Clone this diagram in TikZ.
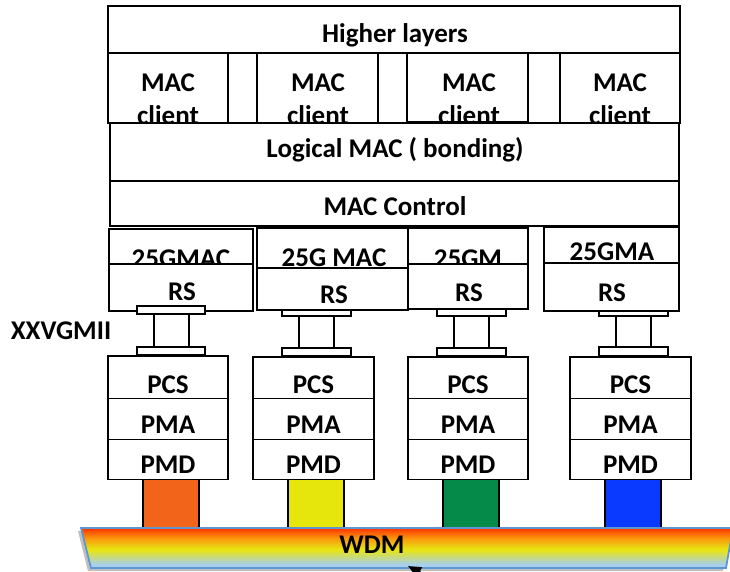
\documentclass[tikz,border=0pt]{standalone}
\usepackage{fontspec}
\setmainfont{Carlito}
\usetikzlibrary{arrows.meta}
\definecolor{corange}{RGB}{242,100,25}
\definecolor{cyellow}{RGB}{230,230,12}
\definecolor{cgreen}{RGB}{6,138,74}
\definecolor{cblue}{RGB}{10,58,255}
\definecolor{wred}{RGB}{255,50,0}
\definecolor{worg}{RGB}{250,150,10}
\definecolor{wyel}{RGB}{232,228,20}
\definecolor{wlb}{RGB}{168,208,232}
\definecolor{wedge}{RGB}{95,150,210}
\tikzset{
  box/.style={draw=black, line width=1.5pt, fill=white},
  pad/.style={draw=black, line width=1.3pt, fill=white},
  lbl/.style={font=\bfseries\fontsize{27}{32}\selectfont, anchor=base, inner sep=0pt},
}
\begin{document}
\begin{tikzpicture}[x=1pt,y=-1pt]
\useasboundingbox (0,0) rectangle (730,572);
\clip (0,0) rectangle (730,572);
% colored links
\draw[box, fill=corange] (143,476) rectangle (199,530);
\draw[box, fill=cyellow] (288,476) rectangle (344,530);
\draw[box, fill=cgreen] (443,476) rectangle (499,530);
\draw[box, fill=cblue] (605,476) rectangle (661,530);
% WDM
\fill[black!25] (78,531) -- (729,531) -- (723,571) -- (88,571) -- cycle;
\begin{scope}
  \clip (81,528) -- (733,528) -- (726,568) -- (91,568) -- cycle;
  \foreach \i in {0,...,9}{
    \pgfmathsetmacro\p{100-\i*10}
    \fill[wred!\p!worg] (70,{528+\i}) rectangle (740,{529.3+\i});
  }
  \foreach \i in {0,...,11}{
    \pgfmathsetmacro\p{100-\i*100/11}
    \fill[worg!\p!wyel] (70,{538+\i}) rectangle (740,{539.3+\i});
  }
  \foreach \i in {0,...,14}{
    \pgfmathsetmacro\p{100-\i*100/14}
    \fill[wyel!\p!wlb] (70,{550+\i}) rectangle (740,{551.3+\i});
  }
  \fill[wlb] (70,564.5) rectangle (740,572);
\end{scope}
\draw[draw=wedge, line width=1.8pt] (81,528) -- (733,528) -- (726,568) -- (91,568) -- cycle;
\node[lbl] (wdm) at (372,553) {WDM};
\draw[line width=2.5pt, -{Triangle[length=13pt,width=11pt]}] (446,587) -- (408,566);
% Higher layers
\draw[box] (108,6) rectangle (680,53);
\node[lbl] (hl) at (395,43) {Higher layers};
% MAC clients
\draw[box] (228,53) rectangle (257,123);
\draw[box] (378,53) rectangle (407,123);
\draw[box] (528,53) rectangle (560,123);
\draw[box] (108,53) rectangle (228,123);
\draw[box] (257,53) rectangle (378,123);
\draw[box] (407,53) rectangle (528,122);
\draw[box] (560,53) rectangle (680,123);
\foreach \n/\x in {1/168,2/318,3/469,4/620}{
  \node[lbl] (mac\n) at (\x,92) {MAC};
  \node[lbl] (cl\n) at (\x,125) {client};
}
% Logical MAC
\draw[box] (110,123) rectangle (679,181);
\node[lbl] (lmac) at (395,158) {Logical MAC ( bonding)};
% MAC Control
\draw[box] (110,181) rectangle (679,226);
\node[lbl] (mctl) at (395,215) {MAC Control};
% 25G MAC upper boxes
\draw[box] (109,229) rectangle (253,266);
\draw[box] (257,228) rectangle (408,268);
\draw[box] (408,228) rectangle (528,266);
\draw[box] (544,227) rectangle (679,265);
\node[lbl] (m1) at (181,267) {25GMAC};
\node[lbl] (m2) at (334,266) {25G MAC};
\node[lbl] (m3) at (468,267) {25GM};
\node[lbl] (m4) at (612,260) {25GMA};
% top pads behind RS (cols 2-4)
\draw[pad] (282,305) rectangle (351,316);
\draw[pad] (437,305) rectangle (506,316);
\draw[pad] (599,305) rectangle (668,316);
% RS boxes
\draw[box] (109,264) rectangle (253,311);
\draw[box] (257,268) rectangle (408,310);
\draw[box] (408,264) rectangle (528,309);
\draw[box] (544,263) rectangle (679,311);
\node[lbl] (rs1) at (182,300) {RS};
\node[lbl] (rs2) at (334,303) {RS};
\node[lbl] (rs3) at (469,301) {RS};
\node[lbl] (rs4) at (612,301) {RS};
% col1 top pad in front
\draw[pad] (137,306) rectangle (205,314);
% XXVGMII stems
\draw[line width=1.5pt] (154,314) -- (154,347) (189,314) -- (189,347);
\draw[line width=1.5pt] (299,316) -- (299,348) (334,316) -- (334,348);
\draw[line width=1.5pt] (454,316) -- (454,348) (489,316) -- (489,348);
\draw[line width=1.5pt] (616,316) -- (616,347) (651,316) -- (651,347);
\draw[pad] (137,347) rectangle (205,355);
\draw[pad] (282,348) rectangle (351,356);
\draw[pad] (437,348) rectangle (506,356);
\draw[pad] (599,347) rectangle (668,356);
\node[lbl] (xx) at (61,339) {XXVGMII};
% PHY stacks
\foreach \n/\l/\r/\t in {1/108/228/356,2/253/374/357,3/408/528/357,4/570/691/357}{
  \draw[box] (\l,\t) rectangle (\r,398.5);
  \draw[box] (\l,398.5) rectangle (\r,439.5);
  \draw[box] (\l,439.5) rectangle (\r,479.5);
  \node[lbl] (pcs\n) at ({(\l+\r)/2},393) {PCS};
  \node[lbl] (pma\n) at ({(\l+\r)/2},433) {PMA};
  \node[lbl] (pmd\n) at ({(\l+\r)/2},473) {PMD};
}
\end{tikzpicture}
\end{document}
